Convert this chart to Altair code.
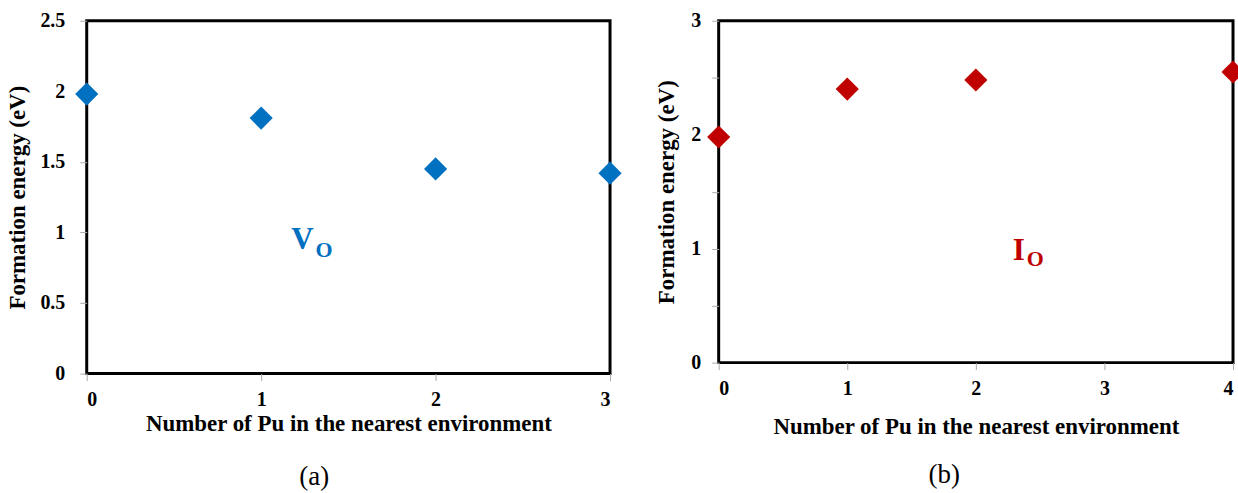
import altair as alt
import pandas as pd

# Panel (a): oxygen vacancy
vo_x = [0, 1, 2, 3]
vo_y = [1.98, 1.81, 1.45, 1.42]
# Panel (b): oxygen interstitial
io_x = [0, 1, 2, 4]
io_y = [1.98, 2.40, 2.48, 2.55]

x_title = "Number of Pu in the nearest environment"
y_title = "Formation energy (eV)"

BLUE = "#0070C0"
RED = "#C00000"
FONT = "Liberation Serif"

df_a = pd.DataFrame({"n": vo_x, "e": vo_y})
df_b = pd.DataFrame({"n": io_x, "e": io_y})

lab_a = pd.DataFrame({"n": [1.30], "e": [0.88], "main": ["V"], "sub": ["O"]})
lab_b = pd.DataFrame({"n": [2.38], "e": [0.90], "main": ["I"], "sub": ["O"]})


def panel(df, lab, color, xmax, ymax, yvals, ylabel_expr, w, h, caption,
          xtitle_pad, ylab_pad, ytitle_pad, cap_off, sub_dy, cap_dx):
    xs = alt.Scale(domain=[0, xmax], nice=False, zero=True)
    ys = alt.Scale(domain=[0, ymax], nice=False)
    pts = alt.Chart(df).mark_point(
        shape="diamond", filled=True, size=540, opacity=1, color=color, clip=False
    ).encode(
        x=alt.X("n:Q", scale=xs, title=x_title,
                axis=alt.Axis(values=list(range(xmax + 1)), format="d",
                              labelPadding=9, titlePadding=xtitle_pad)),
        y=alt.Y("e:Q", scale=ys, title=y_title,
                axis=alt.Axis(values=yvals, labelExpr=ylabel_expr,
                              labelPadding=ylab_pad, titlePadding=ytitle_pad)),
    )
    main = alt.Chart(lab).mark_text(
        font=FONT, fontWeight="bold", fontSize=31, color=color, align="right", baseline="alphabetic"
    ).encode(x="n:Q", y="e:Q", text="main:N")
    sub = alt.Chart(lab).mark_text(
        font=FONT, fontWeight="bold", fontSize=22, color=color, align="left",
        baseline="alphabetic", dx=2, dy=sub_dy
    ).encode(x="n:Q", y="e:Q", text="sub:N")
    return alt.layer(pts, main, sub).properties(
        width=w, height=h,
        title=alt.TitleParams(caption, orient="bottom", font=FONT, fontSize=27,
                              fontWeight="normal", color="black", offset=cap_off,
                              frame="bounds", anchor="middle", dx=cap_dx),
    )


left = panel(df_a, lab_a, BLUE, 3, 2.5, [0, 0.5, 1, 1.5, 2, 2.5],
             "format(datum.value, '~g')", 525, 354, "(a)", 3, 15, 10, 29, 8, 0)
right = panel(df_b, lab_b, RED, 4, 3, [0, 0.5, 1, 1.5, 2, 2.5, 3],
              "datum.value % 1 == 0 ? format(datum.value, '~g') : ''", 516, 343, "(b)",
              17, 11, 12, 24, 6, -6)

chart = alt.hconcat(left, right, spacing=30).properties(
    padding={"left": 5, "top": 8, "right": -9, "bottom": 0},
    background="white",
).configure_view(
    stroke="black", strokeWidth=3
).configure_axis(
    grid=False, domain=False, tickColor="#aaa", tickSize=7, tickWidth=1,
    labelFont=FONT, labelFontWeight="bold", labelFontSize=20, labelColor="black",
    titleFont=FONT, titleFontWeight="bold", titleFontSize=23, titleColor="black",
)

chart.save("out.html", embed_options={"renderer": "svg", "actions": False})
